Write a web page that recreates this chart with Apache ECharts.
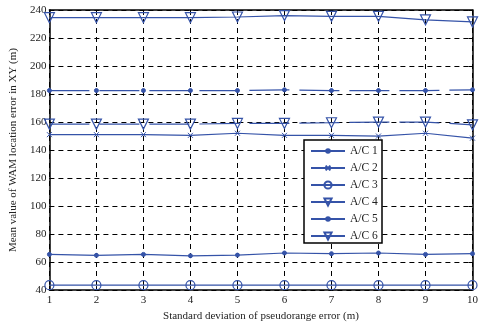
<!DOCTYPE html>
<html><head><meta charset="utf-8">
<script src="https://cdn.jsdelivr.net/npm/echarts@6/dist/echarts.min.js"></script>
<style>html,body{margin:0;padding:0;background:#fff}#c{width:481px;height:327px}</style>
</head><body><div id="c"></div>
<script>
const xValues = [1,2,3,4,5,6,7,8,9,10];
const ac1 = [65.5,64.8,65.5,64.5,65,66.5,66,66.5,65.5,66];
const ac2 = [151,151,151,150.5,152,150.5,150.5,150,152,148.5];
const ac3 = [43.5,43.5,43.5,43.5,43.5,43.5,43.5,43.5,43.5,43.5];
const ac4 = [234.5,234.5,234.5,234.5,235,236,235.5,235.5,233,231.5];
const ac5 = [182.5,182.5,182.5,182.5,182.5,183,182.5,182.5,182.5,183];
const ac6 = [158.5,158.5,158.5,158.5,159,159,159.5,160,160,158];
const seriesNames = ['A/C 1','A/C 2','A/C 3','A/C 4','A/C 5','A/C 6'];

const blue = '#3553a8';
const font = '"Liberation Serif", "DejaVu Serif", serif';
const xPath = 'path://M0,0L10,10M10,0L0,10';
function pts(arr){ return arr.map((v,i)=>[xValues[i], v]); }
function mk(name, data, symbol, size, hollow, dashed, rotate){
  return {
    name, type:'line', data: pts(data), symbol, symbolSize:size, symbolRotate: rotate||0,
    showSymbol:true,
    lineStyle:{color:blue, width:1.2, type: dashed ? [40,10] : 'solid'},
    itemStyle:{color: hollow ? 'rgba(255,255,255,0)' : blue, borderColor: blue, borderWidth: hollow?1.2:1},
    animation:false, z:3
  };
}
const legendIconH = [4.5, 6, 9, 9, 4.5, 9];
const legends = seriesNames.map((n,i)=>({
  orient:'vertical', left:310, top: 151 + i*17 - 7,
  itemWidth:34, itemHeight:legendIconH[i], padding:0, z:20,
  data:[n], selectedMode:false,
  textStyle:{fontFamily:font, fontSize:11.5, color:'#222', lineHeight:14}
}));
const chart = echarts.init(document.getElementById('c'));
chart.setOption({
  animation:false,
  grid:{left:47.5, right:3, top:10, bottom:35},
  legend: legends,
  graphic:[{type:'rect', z:10, shape:{x:304, y:140, width:78, height:103},
    style:{fill:'#fff', stroke:'#000', lineWidth:1.5}}],
  xAxis:[{
    type:'value', min:1, max:10, interval:1,
    name:'Standard deviation of pseudorange error (m)', nameLocation:'middle', nameGap:18,
    nameTextStyle:{fontFamily:font, fontSize:11, color:'#222'},
    axisLine:{show:true, onZero:false, lineStyle:{color:'#000', width:1.5}},
    axisTick:{show:true, inside:true, length:4, lineStyle:{color:'#000'}},
    axisLabel:{fontFamily:font, fontSize:11, color:'#222', margin:5},
    splitLine:{show:true, lineStyle:{color:'#000', type:[5,4], width:1}}
  },{
    type:'value', min:1, max:10, interval:1, position:'top',
    axisLine:{show:true, lineStyle:{color:'#000', width:1.5}},
    axisTick:{show:true, inside:true, length:4, lineStyle:{color:'#000'}},
    axisLabel:{show:false}, splitLine:{show:false}
  }],
  yAxis:[{
    type:'value', min:40, max:240, interval:20,
    name:'Mean value of WAM location error in XY (m)', nameLocation:'middle', nameGap:28,
    nameTextStyle:{fontFamily:font, fontSize:11, color:'#222'},
    axisLine:{show:true, onZero:false, lineStyle:{color:'#000', width:1.5}},
    axisTick:{show:true, inside:true, length:4, lineStyle:{color:'#000'}},
    axisLabel:{fontFamily:font, fontSize:11, color:'#222', margin:3},
    splitLine:{show:true, lineStyle:{color:'#000', type:[5,4], width:1}}
  },{
    type:'value', min:40, max:240, interval:20, position:'right',
    axisLine:{show:true, lineStyle:{color:'#000', width:1.5}},
    axisTick:{show:true, inside:true, length:4, lineStyle:{color:'#000'}},
    axisLabel:{show:false}, splitLine:{show:false}
  }],
  series:[
    mk(seriesNames[0], ac1, 'circle', 4, false, false),
    mk(seriesNames[1], ac2, xPath, 5, false, false),
    mk(seriesNames[2], ac3, 'circle', 9, true, false),
    mk(seriesNames[3], ac4, 'triangle', 10, true, false, 180),
    mk(seriesNames[4], ac5, 'circle', 4, false, true),
    mk(seriesNames[5], ac6, 'triangle', 10, true, true, 180)
  ]
});
</script></body></html>
